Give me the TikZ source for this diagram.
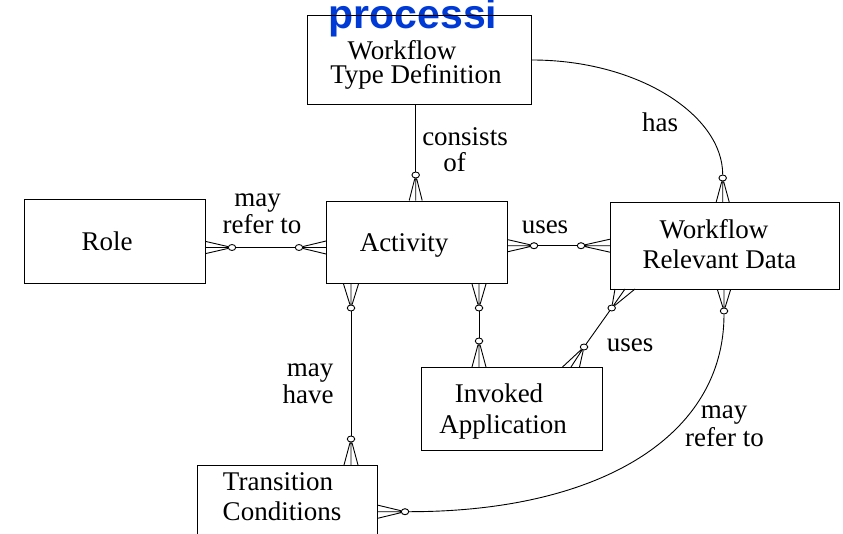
\documentclass[tikz,border=0pt]{standalone}
\usepackage{fontspec}
\setmainfont{Liberation Serif}
\setsansfont{Liberation Sans}
\usetikzlibrary{calc,shapes.geometric}
\definecolor{procblue}{RGB}{0,58,214}
\newcommand{\crowfoot}[3]{%
  \draw[conn] ($(#1)+(#2)$) -- (#3) (#1) -- (#3) ($(#1)-(#2)$) -- (#3);}
\begin{document}
\begin{tikzpicture}[x=1pt,y=-1pt,
  box/.style={draw, line width=1pt, rectangle, inner sep=0pt, anchor=north west},
  lbl/.style={font=\fontsize{27}{29}\selectfont, inner sep=0pt, anchor=base},
  ring/.style={draw, ellipse, line width=0.9pt, fill=white, inner sep=0pt, minimum width=7.5pt, minimum height=6pt},
  conn/.style={line width=0.9pt}]
\useasboundingbox (0,0) rectangle (843,533);
\clip (0,0) rectangle (843,533);
\fill[white] (0,0) rectangle (843,533);

\node[font=\fontsize{41}{41}\selectfont\sffamily\bfseries, text=procblue, inner sep=0pt, anchor=base] (proc) at (413,28) {processi};

% boxes
\node[box, minimum width=224pt, minimum height=89pt] (wtd) at (307,15) {};
\node[box, minimum width=181pt, minimum height=84pt] (role) at (24,199) {};
\node[box, minimum width=181pt, minimum height=82.5pt] (act) at (326,200.5) {};
\node[box, minimum width=229pt, minimum height=87pt] (wrd) at (610,202) {};
\node[box, minimum width=181pt, minimum height=83pt] (ia) at (421,367) {};
\node[box, minimum width=180pt, minimum height=100pt] (tc) at (197,465) {};

% box texts
\node[lbl] (wtdA) at (402,59) {Workflow};
\node[lbl] (wtdB) at (416,83) {Type Definition};
\node[lbl] (roleT) at (107,250) {Role};
\node[lbl] (actT) at (404,251.7) {Activity};
\node[lbl] (wrdA) at (714,238) {Workflow};
\node[lbl] (wrdB) at (719.5,268) {Relevant Data};
\node[lbl] (iaA) at (499,402.5) {Invoked};
\node[lbl] (iaB) at (503,433) {Application};
\node[lbl] (tcA) at (278,490) {Transition};
\node[lbl] (tcB) at (282,520) {Conditions};

% connector labels
\node[lbl] (l1a) at (257.5,206) {may};
\node[lbl] (l1b) at (262,233) {refer to};
\node[lbl] (l2a) at (465,145.7) {consists};
\node[lbl] (l2b) at (454.7,171) {of};
\node[lbl] (l3) at (545,233) {uses};
\node[lbl] (l4) at (660,131.7) {has};
\node[lbl] (l5a) at (310,376.7) {may};
\node[lbl] (l5b) at (308,403.3) {have};
\node[lbl] (l6) at (630,351.7) {uses};
\node[lbl] (l7a) at (724,418.3) {may};
\node[lbl] (l7b) at (724.5,446.7) {refer to};

% rings
\node[ring] (r1) at (232,247.5) {};
\node[ring] (r2) at (299,247.5) {};
\node[ring] (r3) at (415.7,175) {};
\node[ring] (r4) at (534,245.7) {};
\node[ring] (r5) at (581,245.7) {};
\node[ring] (r6) at (722.7,178) {};
\node[ring] (r7) at (351,308) {};
\node[ring] (r8) at (351,439) {};
\node[ring] (r9) at (479,308) {};
\node[ring] (r10) at (479,341) {};
\node[ring] (r11) at (611.7,308) {};
\node[ring] (r12) at (584,347) {};
\node[ring] (r13) at (724,311) {};
\node[ring] (r14) at (405,511.7) {};

% crow feet
\crowfoot{role.east |- r1}{0,6}{r1}
\crowfoot{act.west |- r2}{0,6.5}{r2}
\crowfoot{act.north -| r3}{6.5,0}{r3}
\crowfoot{act.east |- r4}{0,6}{r4}
\crowfoot{wrd.west |- r5}{0,6.5}{r5}
\crowfoot{wrd.north -| r6}{6.5,0}{r6}
\crowfoot{act.south -| r7}{7.5,0}{r7}
\crowfoot{tc.north -| r8}{7,0}{r8}
\crowfoot{act.south -| r9}{7,0}{r9}
\crowfoot{ia.north -| r10}{7,0}{r10}
\coordinate (e11) at (625,289);
\crowfoot{e11}{10,0}{r11}
\coordinate (e12) at (571,367);
\crowfoot{e12}{8.5,0}{r12}
\crowfoot{wrd.south -| r13}{6.5,0}{r13}
\crowfoot{tc.east |- r14}{0,6.5}{r14}

% connectors
\draw[conn] (r1) -- (r2);
\draw[conn] (wtd.south -| r3) -- (r3);
\draw[conn] (r4) -- (r5);
\draw[conn] (r7) -- (r8);
\draw[conn] (r9) -- (r10);
\draw[conn] (r11) -- (r12);
\draw[conn] (wtd.east) .. controls +(106,0) and +(0,-63) .. (r6);
\draw[conn] (r13) .. controls +(0,125) and +(195,0) .. (r14);
\end{tikzpicture}
\end{document}
